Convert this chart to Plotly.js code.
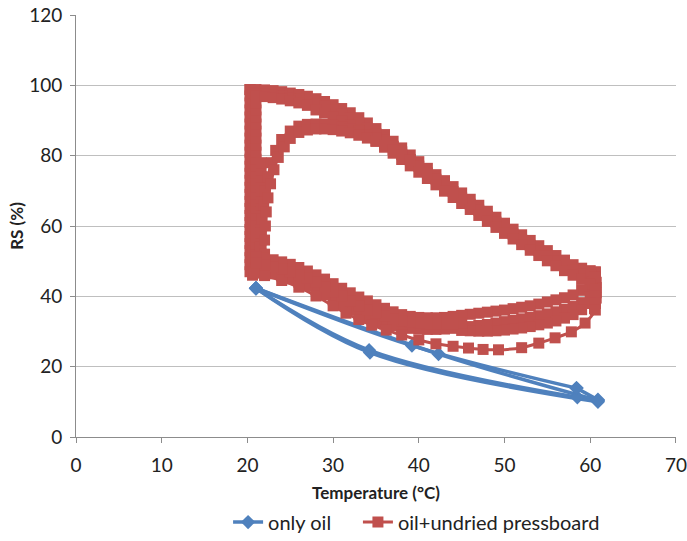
<!DOCTYPE html>
<html><head><meta charset="utf-8">
<script src="https://cdn.plot.ly/plotly-3.0.1.min.js"></script>
<style>html,body{margin:0;padding:0;background:#fff}#chart{width:687px;height:541px}</style>
</head><body><div id="chart"></div>
<script>
// ---- "only oil" cycles (segments) ----
const oilSeg1X = [21.0, 39.2, 58.4];
const oilSeg1Y = [42.3, 26.0, 13.9];
const oilSeg2X = [21.0, 42.3, 60.9];
const oilSeg2Y = [42.3, 23.6, 10.4];
const oilSeg3X = [21.0, 34.2, 58.5];
const oilSeg3Y = [42.3, 24.7, 11.3];
const oilSeg4X = [21.0, 34.3, 60.9];
const oilSeg4Y = [42.3, 24.0, 10.0];
const oilSeg5X = [58.4, 60.9];
const oilSeg5Y = [13.9, 10.6];

// ---- "oil+undried pressboard" cycles (segments) ----
const vert1X = [20.3,20.3,20.3,20.3,20.3,20.3,20.3,20.3,20.3,20.3,20.3,20.3,20.3,20.3,20.3,20.3,20.3,20.3,20.3,20.3,20.3,20.3,20.3,20.3,20.3,20.3,20.3];
const vert1Y = [47,49,51,53,55,57,59,61,63,65,67,69,71,73,75,77,79,81,83,85,87,89,91,93,95,97,98.8];
const vert2X = [20.6,20.6,20.6,20.6,20.6,20.6,20.6,20.6,20.6,20.6,20.6,20.6,20.6,20.6,20.6,20.6,20.6,20.6,20.6,20.6,20.6,20.6,20.6,20.6,20.6,20.6,20.6];
const vert2Y = [46,48,50,52,54,56,58,60,62,64,66,68,70,72,74,76,78,80,82,84,86,88,90,92,94,96,97.8];
const vert3X = [21.0,21.0,21.0,21.0,21.0,21.0,21.0,21.0,21.0,21.0,21.0,21.0,21.0,21.0,21.0,21.0,21.0,21.0,21.0,21.0,21.0,21.0,21.0,21.0,21.0,21.0];
const vert3Y = [47,49,51,53,55,57,59,61,63,65,67,69,71,73,75,77,79,81,83,85,87,89,91,93,95,97];
const vert4X = [21.6,21.6,21.6,21.6,21.6,21.6,21.6,21.6,21.6,21.6,21.6,21.6,21.6,21.6,21.6,21.6];
const vert4Y = [48,50,52,54,56,58,60,62,64,66,68,70,72,74,76,78];

const diag1X = [20.3,21,22,23,24,25,26,27,28,29,30,31,32,33,34,35,36,37,38,39,40,41,42,43,44,45,46,47,48,49,50,51,52,53,54,55,56,57,58,59,60,60.6];
const diag1Y = [98.8,98.8,98.7,98.5,98.2,97.8,97.4,96.9,96.2,95.4,94.5,93.4,92.2,90.8,89.3,87.7,86,84.1,82.2,80.2,78.3,76.4,74.6,72.9,71.2,69.4,67.6,65.9,64.2,62.5,60.8,59.1,57.5,55.9,54.4,53,51.6,50.3,49,48,47.3,46.8];
const diag2X = [20.6,21,22,23,24,25,26,27,28,29,30,31,32,33,34,35,36,37,38,39,40,41,42,43,44,45,46,47,48,49,50,51,52,53,54,55,56,57,58,59,60,60.5];
const diag2Y = [97.8,97.6,97.5,97.2,96.9,96.5,96,95.5,94.8,94,93,91.9,90.7,89.3,87.8,86.2,84.5,82.7,80.8,78.9,77,75.1,73.3,71.5,69.8,68,66.2,64.5,62.8,61.1,59.4,57.7,56.1,54.5,53,51.5,50.1,48.8,47.5,46.4,45.6,45.2];
const diag3X = [21,22,23,24,25,26,27,28,29,30,31,32,33,34,35,36,37,38,39,40,41,42,43,44,45,46,47,48,49,50,51,52,53,54,55,56,57,58,59,60];
const diag3Y = [97,96.8,96.5,96.1,95.6,95,94.3,93,92.1,91.1,89.9,88.6,87.2,85.7,84.1,82.4,80.7,78.9,77.1,75.3,73.5,71.7,69.9,68.1,66.4,64.7,63,61.3,59.6,57.9,56.3,54.7,53.1,51.6,50.1,48.7,47.3,46,44.8,43.8];

const arc1X = [21.5,21.5,21.6,21.7,21.9,22.1,22.4,22.8,23.3,24,25,26,27,28,29,30,31,32,33,34,35,36,37,38];
const arc1Y = [50,54,58,62,66,70,74,78,81.5,84.6,87,88.4,88.9,89,88.9,88.6,88.2,87.6,86.9,86,85,83.9,82.6,81.2];
const arc2X = [22,22,22.1,22.2,22.4,22.7,23.1,23.6,24.3,25,26,27,28,29,30,31,32,33,34,35,36,37,38,39];
const arc2Y = [52,56,60,64,68,72,76,79.5,82.5,84.9,86.6,87.3,87.6,87.6,87.4,87,86.5,85.8,85,84.1,83,81.7,80.3,78.8];

const rightX = [60.6,60.6,60.7,60.7,60.7,60.7,60.6,60.5];
const rightY = [47,45.5,44,42.5,41,39.5,38,36.5];
const right2X = [60.1,60.2,60.2,60.2,60.1];
const right2Y = [46,44,42,40,38];

const bot1X = [60.5,60,59,58,57,56,55,54,53,52,51,50,49,48,47,46,45,44,43,42,41,40,39,38,37,36,35,34,33,32,31,30,29,28,27,26,25,24,23,22,21];
const bot1Y = [45.5,43.5,41.7,40.4,39.6,39,38.4,37.8,37.3,36.9,36.5,36.1,35.8,35.5,35.2,34.9,34.6,34.3,34,33.9,33.9,34,34.3,34.8,35.6,36.6,37.6,38.7,39.8,41,42.3,43.6,44.9,46.1,47.2,48.2,49.1,49.8,50.4,50.9,51.3];
const bot2X = [60.6,60,59,58,57,56,55,54,53,52,51,50,49,48,47,46,45,44,43,42,41,40,39,38,37,36,35,34,33,32,31,30,29,28,27,26,25,24,23,22,21];
const bot2Y = [42,39.8,38.2,37.1,36.3,35.6,35,34.5,34,33.6,33.2,32.8,32.4,32,31.7,31.4,31.1,30.9,30.7,30.6,30.6,30.7,30.9,31.2,31.6,32.2,32.9,33.8,34.9,36.2,37.6,39,40.5,41.8,43,44,45,45.8,46.4,47,47.5];
const bot3X = [60.6,60,59,58,57,56,55,54,53,52,51,50,49,48,47,46,45];
const bot3Y = [40,38,36.2,34.8,33.8,33,32.4,31.9,31.4,31,30.7,30.4,30.2,30.1,30.1,30.2,30.3];
const bot4X = [60.6,60.6,59.4,57.8,55.9,54,52,49.3,47.5,45.8,44,42,40,38,36.2,34.5,33,31.5,30,28,26,24,22,20.8];
const bot4Y = [38,36.1,32.4,29.9,28.2,26.7,25.4,24.8,24.9,25.3,25.8,26.5,27.6,29,30.4,31.8,33.4,35.2,37.3,40.1,42.6,44.5,45.9,46.6];
const bot5X = [45,44,43,42,41,40,39,38,37,36,35,34,33,32,31,30,29,28,27,26,25,24,23,22,21];
const bot5Y = [32.3,32.1,32,32,32.1,32.3,32.6,33,33.6,34.4,35.2,36.2,37.3,38.6,40,41.3,42.7,44,45.1,46.1,47,47.8,48.4,49,49.4];

const xTicks = [0,10,20,30,40,50,60,70];
const yTicks = [0,20,40,60,80,100,120];

function joinSegs(list){
  const out=[];
  list.forEach((s,i)=>{ if(i>0) out.push(null); s.forEach(v=>out.push(v)); });
  return out;
}
const oilX = joinSegs([oilSeg1X,oilSeg2X,oilSeg3X,oilSeg4X,oilSeg5X]);
const oilY = joinSegs([oilSeg1Y,oilSeg2Y,oilSeg3Y,oilSeg4Y,oilSeg5Y]);
const boardX = joinSegs([vert1X,vert2X,vert3X,vert4X,diag1X,diag2X,diag3X,arc1X,arc2X,rightX,right2X,bot1X,bot2X,bot3X,bot4X,bot5X]);
const boardY = joinSegs([vert1Y,vert2Y,vert3Y,vert4Y,diag1Y,diag2Y,diag3Y,arc1Y,arc2Y,rightY,right2Y,bot1Y,bot2Y,bot3Y,bot4Y,bot5Y]);

const BLUE='#4F81BD', RED='#C0504D';
const FONT='Lato, "Open Sans", sans-serif';

const traces = [
  {x:oilX, y:oilY, name:'only oil', type:'scatter', mode:'lines+markers', legend:'legend',
   line:{color:BLUE, width:3.5, shape:'spline', smoothing:1},
   marker:{symbol:'diamond', size:11, color:BLUE}, connectgaps:false},
  {x:boardX, y:boardY, name:'oil+undried pressboard', type:'scatter', mode:'lines+markers', legend:'legend2',
   line:{color:RED, width:3, shape:'spline', smoothing:0.8},
   marker:{symbol:'square', size:11, color:RED}, connectgaps:false}
];

const legendFont = {family:FONT, size:20, color:'#222'};
const layout = {
  width:687, height:541,
  margin:{l:76, r:11, t:15, b:104},
  paper_bgcolor:'#fff', plot_bgcolor:'#fff',
  font:{family:FONT, color:'#222'},
  showlegend:true,
  legend:{orientation:'h', xref:'container', yref:'container',
          x:0.332, xanchor:'left', y:0.035, yanchor:'middle', font:legendFont},
  legend2:{orientation:'h', xref:'container', yref:'container',
          x:0.521, xanchor:'left', y:0.035, yanchor:'middle', font:legendFont},
  xaxis:{range:[0,70.01], tickvals:xTicks, ticktext:xTicks.map(String),
         showgrid:false, zeroline:false, showline:true, linecolor:'#8C8C8C', linewidth:1,
         ticks:'outside', ticklen:5, tickcolor:'#8C8C8C', tickfont:{family:FONT, size:19, color:'#222'},
         ticklabelstandoff:6,
         title:{text:'Temperature (°C)', font:{family:FONT, size:17, color:'#222', weight:'bold'}, standoff:12}},
  yaxis:{range:[0,120], tickvals:yTicks, ticktext:yTicks.map(String),
         showgrid:true, gridcolor:'#BFBFBF', gridwidth:1, zeroline:false,
         showline:true, linecolor:'#8C8C8C', linewidth:1,
         ticks:'outside', ticklen:5, tickcolor:'#8C8C8C', tickfont:{family:FONT, size:19, color:'#222'},
         ticklabelstandoff:4,
         title:{text:'RS (%)', font:{family:FONT, size:17, color:'#222', weight:'bold'}, standoff:1}}
};

Plotly.newPlot('chart', traces, layout, {displayModeBar:false, staticPlot:true});
</script>
</body></html>
